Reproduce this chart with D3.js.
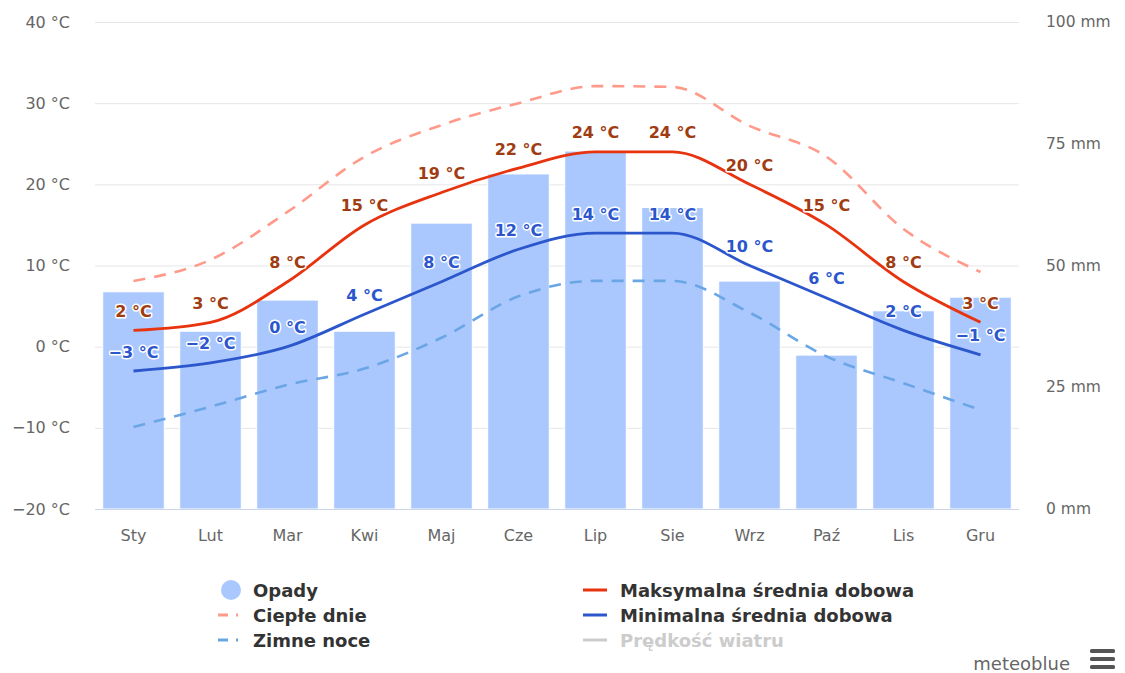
<!DOCTYPE html>
<html lang="pl">
<head>
<meta charset="utf-8">
<script src="https://cdn.jsdelivr.net/npm/d3@7"></script>
<style>
  html, body { margin: 0; padding: 0; background: #fff; }
  svg { display: block; font-family: "DejaVu Sans", Verdana, sans-serif; }
</style>
</head>
<body>
<svg id="chart" width="1125" height="673"></svg>
<script>
// Monthly climate data
const months = ["Sty", "Lut", "Mar", "Kwi", "Maj", "Cze", "Lip", "Sie", "Wrz", "Paź", "Lis", "Gru"];
const precipitation = [44.6, 36.5, 42.9, 36.5, 58.7, 68.8, 73.5, 61.9, 46.8, 31.6, 40.7, 43.5]; // mm
const maxDaily = [2, 3, 8, 15, 19, 22, 24, 24, 20, 15, 8, 3];        // °C
const minDaily = [-3, -2, 0, 4, 8, 12, 14, 14, 10, 6, 2, -1];        // °C
const warmDays = [8.1, 10.7, 16.6, 23.4, 27.3, 30.0, 32.1, 32.0, 27.2, 23.4, 14.5, 9.2];
const coldNights = [-9.9, -7.4, -4.7, -2.7, 1.1, 6.2, 8.1, 8.1, 4.2, -1.2, -4.5, -7.8];
const tempTicks = [-20, -10, 0, 10, 20, 30, 40];
const precipTicks = [0, 25, 50, 75, 100];

const legendItems = [
  { label: "Opady", kind: "dot", color: "#aac8fd", col: 0, row: 0 },
  { label: "Ciepłe dnie", kind: "dash", color: "#ff9a8a", col: 0, row: 1 },
  { label: "Zimne noce", kind: "dash", color: "#6aa6e6", col: 0, row: 2 },
  { label: "Maksymalna średnia dobowa", kind: "line", color: "#e8330f", col: 1, row: 0 },
  { label: "Minimalna średnia dobowa", kind: "line", color: "#2b56cc", col: 1, row: 1 },
  { label: "Prędkość wiatru", kind: "line", color: "#cccccc", col: 1, row: 2, hidden: true }
];

const svg = d3.select("#chart");
const plot = { left: 95, right: 1019, top: 22, bottom: 509 };

const x = d3.scaleBand().domain(months).range([plot.left, plot.right])
  .paddingInner(0.2).paddingOuter(0.1);
const cx = m => x(m) + x.bandwidth() / 2;
const yT = d3.scaleLinear().domain([-20, 40]).range([plot.bottom, plot.top]);
const yP = d3.scaleLinear().domain([0, 100]).range([plot.bottom, plot.top]);

// grid lines
svg.append("g").selectAll("line").data(tempTicks.filter(t => t !== -20)).join("line")
  .attr("x1", plot.left).attr("x2", plot.right)
  .attr("y1", d => yT(d) + 0.5).attr("y2", d => yT(d) + 0.5)
  .attr("stroke", "#e6e6e6").attr("stroke-width", 1);

// left axis labels
svg.append("g").selectAll("text").data(tempTicks).join("text")
  .attr("x", 70).attr("y", d => yT(d))
  .attr("text-anchor", "end").attr("dominant-baseline", "central")
  .attr("font-size", 16).attr("fill", "#666")
  .text(d => (d < 0 ? "−" + Math.abs(d) : d) + " °C");

// right axis labels
svg.append("g").selectAll("text").data(precipTicks).join("text")
  .attr("x", 1046).attr("y", d => yP(d))
  .attr("text-anchor", "start").attr("dominant-baseline", "central")
  .attr("font-size", 15.5).attr("fill", "#666")
  .text(d => d + " mm");

// precipitation bars
svg.append("g").selectAll("rect").data(months).join("rect")
  .attr("x", d => x(d)).attr("width", x.bandwidth())
  .attr("y", (d, i) => yP(precipitation[i]))
  .attr("height", (d, i) => yP(0) - yP(precipitation[i]))
  .attr("fill", "#aac8fd").attr("stroke", "#fff").attr("stroke-width", 1);

// x axis line and labels
svg.append("line").attr("x1", plot.left).attr("x2", plot.right)
  .attr("y1", plot.bottom + 0.5).attr("y2", plot.bottom + 0.5)
  .attr("stroke", "#ccd6eb");
svg.append("g").selectAll("text").data(months).join("text")
  .attr("x", d => cx(d)).attr("y", 535)
  .attr("text-anchor", "middle").attr("dominant-baseline", "central")
  .attr("font-size", 16).attr("fill", "#666")
  .text(d => d);

const line = vals => d3.line()
  .x((d, i) => cx(months[i]))
  .y(d => yT(d))
  .curve(d3.curveMonotoneX)(vals);

// dashed extremes
svg.append("path").attr("d", line(warmDays)).attr("fill", "none")
  .attr("stroke", "#ff9a8a").attr("stroke-width", 2.6).attr("stroke-dasharray", "12,9");
svg.append("path").attr("d", line(coldNights)).attr("fill", "none")
  .attr("stroke", "#6aa6e6").attr("stroke-width", 2.6).attr("stroke-dasharray", "12,9");

// mean daily max / min
svg.append("path").attr("d", line(maxDaily)).attr("fill", "none")
  .attr("stroke", "#e8330f").attr("stroke-width", 2.8);
svg.append("path").attr("d", line(minDaily)).attr("fill", "none")
  .attr("stroke", "#2b56cc").attr("stroke-width", 2.8);

// value labels
const fmt = v => (v < 0 ? "−" + Math.abs(v) : v) + " °C";
function valueLabels(vals, color) {
  svg.append("g").selectAll("text").data(vals).join("text")
    .attr("x", (d, i) => cx(months[i])).attr("y", d => yT(d) - 19)
    .attr("text-anchor", "middle").attr("dominant-baseline", "central")
    .attr("font-size", 16).attr("font-weight", "bold")
    .attr("fill", color).attr("stroke", "#fff").attr("stroke-width", 3)
    .attr("stroke-linejoin", "round").attr("paint-order", "stroke")
    .text(fmt);
}
valueLabels(maxDaily, "#a03c12");
valueLabels(minDaily, "#2b56cc");

// legend
const legend = svg.append("g");
const colX = [253, 620], rowY = [590, 615, 640];
legendItems.forEach(it => {
  const tx = colX[it.col], ty = rowY[it.row];
  if (it.kind === "dot") {
    legend.append("circle").attr("cx", tx - 22).attr("cy", ty).attr("r", 10).attr("fill", it.color);
  } else if (it.kind === "dash") {
    legend.append("line").attr("x1", tx - 35).attr("x2", tx - 12).attr("y1", ty).attr("y2", ty)
      .attr("stroke", it.color).attr("stroke-width", 3).attr("stroke-dasharray", "10,8,2,10");
  } else {
    legend.append("line").attr("x1", tx - 37).attr("x2", tx - 13).attr("y1", ty).attr("y2", ty)
      .attr("stroke", it.color).attr("stroke-width", 3);
  }
  legend.append("text").attr("x", tx).attr("y", ty)
    .attr("dominant-baseline", "central").attr("font-size", 18).attr("font-weight", "bold")
    .attr("fill", it.hidden ? "#cccccc" : "#333")
    .text(it.label);
});

// credit and menu
svg.append("text").attr("x", 1070).attr("y", 663).attr("text-anchor", "end")
  .attr("dominant-baseline", "central").attr("font-size", 18).attr("fill", "#666")
  .text("meteoblue");
svg.append("g").selectAll("rect").data([651, 659, 667]).join("rect")
  .attr("x", 1090).attr("y", d => d - 2).attr("width", 25).attr("height", 4)
  .attr("rx", 1.5).attr("fill", "#555");
</script>
</body>
</html>
